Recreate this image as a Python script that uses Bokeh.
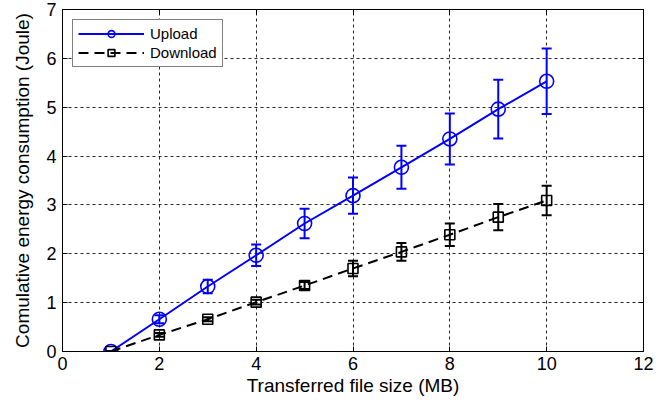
from bokeh.plotting import figure
from bokeh.models import (ColumnDataSource, Whisker, TeeHead, LinearAxis,
                          FixedTicker, CustomJSTickFormatter, Legend, LegendItem)
from bokeh.embed import file_html
from bokeh.resources import INLINE

# Measured energy vs. transferred file size
file_size_mb = [1, 2, 3, 4, 5, 6, 7, 8, 9, 10]
upload_joule = [0.0, 0.66, 1.33, 1.97, 2.62, 3.19, 3.77, 4.35, 4.96, 5.53]
upload_err = [0.0, 0.08, 0.14, 0.22, 0.30, 0.37, 0.44, 0.52, 0.60, 0.67]
download_joule = [0.0, 0.34, 0.66, 1.01, 1.35, 1.70, 2.04, 2.39, 2.75, 3.09]
download_err = [0.0, 0.04, 0.04, 0.05, 0.07, 0.16, 0.18, 0.23, 0.27, 0.30]

x_ticks = [0, 2, 4, 6, 8, 10, 12]
y_ticks = [0, 1, 2, 3, 4, 5, 6, 7]

FONT = "Liberation Sans"
BLUE = "#0000ff"
BLACK = "#000000"

up_src = ColumnDataSource(dict(
    x=file_size_mb, y=upload_joule,
    lower=[m - e for m, e in zip(upload_joule, upload_err)],
    upper=[m + e for m, e in zip(upload_joule, upload_err)],
))
down_src = ColumnDataSource(dict(
    x=file_size_mb, y=download_joule,
    lower=[m - e for m, e in zip(download_joule, download_err)],
    upper=[m + e for m, e in zip(download_joule, download_err)],
))

p = figure(width=667, height=402, x_range=(0, 12), y_range=(0, 7),
           output_backend="svg", toolbar_location=None,
           min_border_left=62, min_border_right=24,
           min_border_top=9, min_border_bottom=51)
p.background_fill_color = "white"
p.border_fill_color = "white"
p.outline_line_color = BLACK
p.outline_line_width = 1

# axes: ticks inward, box-style frame
for ax in (p.xaxis[0], p.yaxis[0]):
    ax.major_tick_in = 5
    ax.major_tick_out = 0
    ax.minor_tick_in = 0
    ax.minor_tick_out = 0
    ax.axis_line_color = BLACK
    ax.major_tick_line_color = BLACK
    ax.major_label_text_font = FONT
    ax.major_label_text_font_size = "18px"
    ax.major_label_text_color = BLACK
    ax.axis_label_text_font = FONT
    ax.axis_label_text_font_size = "19px"
    ax.axis_label_text_font_style = "normal"
    ax.axis_label_text_color = BLACK

p.xaxis.ticker = FixedTicker(ticks=x_ticks)
p.yaxis.ticker = FixedTicker(ticks=y_ticks)
p.xaxis.axis_label = "Transferred file size (MB)"
p.yaxis.axis_label = "Comulative energy consumption (Joule)"
p.xaxis.major_label_standoff = 5
p.yaxis.major_label_standoff = 6
p.xaxis.axis_label_standoff = 2
p.yaxis.axis_label_standoff = 10

blank = CustomJSTickFormatter(code="return ''")
top_ax = LinearAxis(ticker=FixedTicker(ticks=x_ticks), formatter=blank,
                    major_tick_in=5, major_tick_out=0, minor_tick_in=0,
                    minor_tick_out=0, major_label_standoff=0,
                    major_label_text_font_size="0px")
right_ax = LinearAxis(ticker=FixedTicker(ticks=y_ticks), formatter=blank,
                      major_tick_in=5, major_tick_out=0, minor_tick_in=0,
                      minor_tick_out=0, major_label_standoff=0,
                      major_label_text_font_size="0px")
p.add_layout(top_ax, "above")
p.add_layout(right_ax, "right")

# dotted grid
for g in (p.xgrid[0], p.ygrid[0]):
    g.grid_line_color = BLACK
    g.grid_line_dash = "3 3"
    g.grid_line_width = 1
    g.grid_line_alpha = 0.85
p.xgrid.ticker = FixedTicker(ticks=x_ticks)
p.ygrid.ticker = FixedTicker(ticks=y_ticks)

# error bars
for src, col in ((up_src, BLUE), (down_src, BLACK)):
    w = Whisker(base="x", lower="lower", upper="upper", source=src,
                line_color=col, line_width=2,
                upper_head=TeeHead(size=10, line_color=col, line_width=2),
                lower_head=TeeHead(size=10, line_color=col, line_width=2))
    p.add_layout(w)

up_line = p.line("x", "y", source=up_src, line_color=BLUE, line_width=2)
up_mark = p.scatter("x", "y", source=up_src, marker="circle", size=14,
                    fill_color=None, line_color=BLUE, line_width=1.6)
down_line = p.line("x", "y", source=down_src, line_color=BLACK, line_width=2,
                   line_dash="10 6")
down_mark = p.scatter("x", "y", source=down_src, marker="square", size=10,
                      fill_color=None, line_color=BLACK, line_width=1.6)

legend = Legend(items=[
    LegendItem(label="Upload", renderers=[up_line, up_mark]),
    LegendItem(label="Download", renderers=[down_line, down_mark]),
], location="top_left")
legend.margin = 10
legend.padding = 5
legend.spacing = 2
legend.glyph_width = 66
legend.glyph_height = 17
legend.label_height = 17
legend.label_standoff = 6
legend.label_text_font = FONT
legend.label_text_font_size = "15px"
legend.label_text_color = BLACK
legend.border_line_color = BLACK
legend.border_line_width = 1
legend.background_fill_color = "white"
legend.background_fill_alpha = 1.0
p.add_layout(legend)

open("out.html", "w").write(file_html(p, INLINE))
